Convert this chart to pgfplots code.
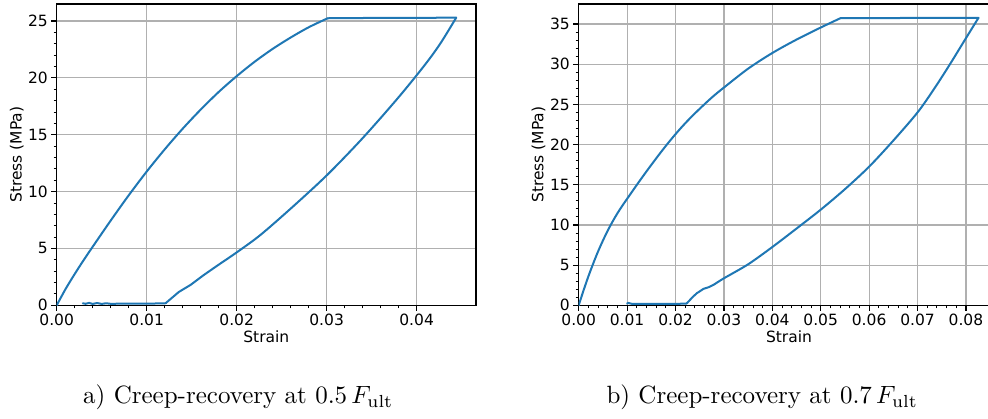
\documentclass[border=0pt]{standalone}
\usepackage{pgfplots}
\pgfplotsset{compat=1.18}
\usepackage{fontspec}
\newfontfamily\dejavu{DejaVu Sans}
\definecolor{mplblue}{HTML}{1F77B4}
\definecolor{gridgray}{HTML}{B0B0B0}
\pgfplotsset{
  mplstyle/.style={
    scale only axis,
    anchor=south west,
    ymin=0,
    xmin=0,
    scaled x ticks=false,
    scaled y ticks=false,
    grid=major,
    major grid style={color=gridgray, line width=1.2pt},
    minor x tick num=4,
    minor y tick num=4,
    tick align=outside,
    tick pos=left,
    major tick length=5.4pt,
    minor tick length=3.1pt,
    every tick/.style={black},
    major tick style={line width=1.2pt, black},
    minor tick style={line width=0.9pt, black},
    axis line style={line width=1.2pt, black},
    tick label style={font=\dejavu\fontsize{15.5}{18}\selectfont},
    xlabel={Strain},
    ylabel={Stress (MPa)},
    every axis x label/.style={at={(axis description cs:0.5,-0.105)}, anchor=center,
      font=\dejavu\fontsize{15.5}{18}\selectfont},
    every axis y label/.style={at={(axis description cs:-0.0955,0.5)}, anchor=center, rotate=90,
      font=\dejavu\fontsize{15.5}{18}\selectfont},
  },
  curve/.style={color=mplblue, line width=2pt, line join=round, line cap=round, no markers},
}
\begin{document}
\begin{tikzpicture}
\path[use as bounding box] (0pt,0pt) rectangle (988pt,419pt);
% ---------------- left panel ----------------
\begin{axis}[mplstyle,
  at={(56.7pt,113.7pt)},
  width=419.3pt, height=301.3pt,
  xmax=0.0466, ymax=26.5,
  xtick={0,0.01,0.02,0.03,0.04},
  xticklabels={0.00,0.01,0.02,0.03,0.04},
  ytick={0,5,10,15,20,25},
  yticklabels={0,5,10,15,20,25},
]
% loading
\addplot[curve, smooth] coordinates {
(0,0) (0.001,1.45) (0.002,2.75) (0.003,3.98) (0.004,5.15) (0.006,7.45)
(0.008,9.67) (0.010,11.76) (0.012,13.71) (0.014,15.53) (0.016,17.21)
(0.018,18.76) (0.020,20.15) (0.022,21.42) (0.024,22.55) (0.026,23.55)
(0.028,24.45) (0.0301,25.24)
};
% creep plateau
\addplot[curve] coordinates {
(0.0301,25.24) (0.0305,25.26) (0.035,25.27) (0.040,25.28) (0.0444,25.3)
};
% unloading
\addplot[curve, smooth] coordinates {
(0.0444,25.3) (0.0427,23.1) (0.041,21.23) (0.038,18.3) (0.034,14.7)
(0.030,11.42) (0.026,8.5) (0.0226,6.16) (0.020,4.65) (0.018,3.57)
(0.01636,2.67)
};
\addplot[curve] coordinates {
(0.01636,2.67) (0.01487,1.79) (0.01357,1.17) (0.0121,0.18)
};
% recovery
\addplot[curve] coordinates {
(0.0121,0.18) (0.010,0.14) (0.007,0.14) (0.006,0.13) (0.0055,0.18)
(0.005,0.12) (0.0045,0.2) (0.004,0.12) (0.0036,0.21) (0.0032,0.13) (0.0029,0.18)
};
\end{axis}
% ---------------- right panel ----------------
\begin{axis}[mplstyle,
  at={(578.7pt,113.7pt)},
  width=420.6pt, height=301.3pt,
  xmax=0.0869, ymax=37.5,
  xtick={0,0.01,0.02,0.03,0.04,0.05,0.06,0.07,0.08},
  xticklabels={0.00,0.01,0.02,0.03,0.04,0.05,0.06,0.07,0.08},
  ytick={0,5,10,15,20,25,30,35},
  yticklabels={0,5,10,15,20,25,30,35},
]
% loading
\addplot[curve, smooth] coordinates {
(0,0) (0.001,1.85) (0.002,3.6) (0.003,5.2) (0.004,6.7) (0.005,8.05)
(0.006,9.3) (0.007,10.42) (0.008,11.45) (0.009,12.38) (0.010,13.25)
(0.012,14.98) (0.014,16.66) (0.016,18.28) (0.018,19.84) (0.020,21.3)
(0.022,22.65) (0.024,23.88) (0.0263,25.2) (0.028,26.12) (0.030,27.1)
(0.035,29.45) (0.040,31.4) (0.045,33.07) (0.050,34.57) (0.0541,35.74)
};
% creep plateau
\addplot[curve] coordinates {
(0.0541,35.74) (0.060,35.75) (0.070,35.76) (0.0826,35.78)
};
% unloading
\addplot[curve, smooth] coordinates {
(0.0826,35.78) (0.0795,32.75) (0.0767,30.0) (0.0735,27.0) (0.070,24.0)
(0.065,20.5) (0.060,17.25) (0.055,14.45) (0.050,11.9) (0.045,9.55)
(0.040,7.25) (0.035,5.1) (0.030,3.36) (0.028,2.6)
};
\addplot[curve] coordinates {
(0.028,2.6) (0.0268,2.24) (0.0258,2.05) (0.0244,1.5) (0.0235,1.0) (0.0223,0.22)
};
% recovery
\addplot[curve] coordinates {
(0.0223,0.22) (0.020,0.17) (0.015,0.17) (0.011,0.18) (0.0105,0.25)
(0.0102,0.3) (0.0100,0.2)
};
\end{axis}
% ---------------- captions ----------------
\node[anchor=base west, inner sep=0pt, scale=2.5] at (82.7pt,15pt)
  {a) Creep-recovery at $0.5\,F_{\mathrm{ult}}$};
\node[anchor=base west, inner sep=0pt, scale=2.5] at (606pt,15pt)
  {b) Creep-recovery at $0.7\,F_{\mathrm{ult}}$};
\end{tikzpicture}
\end{document}
